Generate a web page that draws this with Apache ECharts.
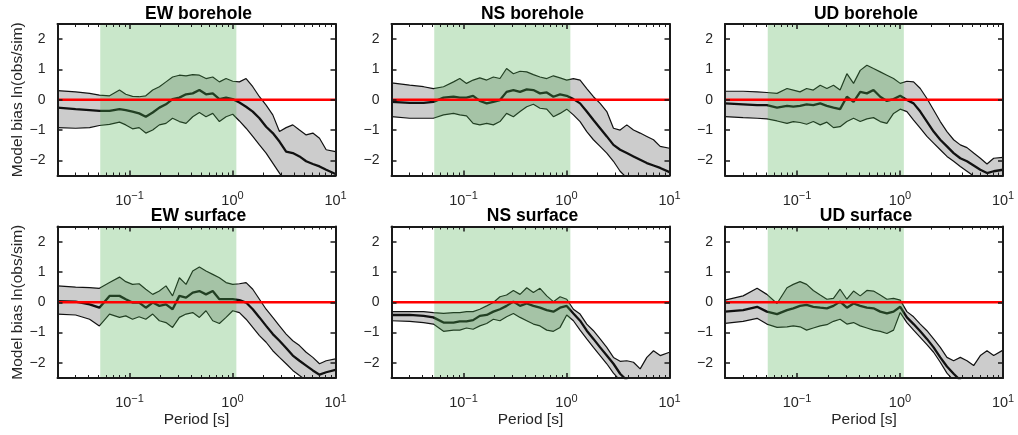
<!DOCTYPE html>
<html><head><meta charset="utf-8">
<script src="https://cdn.jsdelivr.net/npm/echarts@6/dist/echarts.min.js"></script>
<style>html,body{margin:0;padding:0;background:#fff}#c{width:1018px;height:435px}</style>
</head><body><div id="c"></div>
<script>
// ---------- data ----------
const periods = [0.02, 0.03, 0.041, 0.051, 0.064, 0.08, 0.092, 0.107, 0.124, 0.144, 0.168, 0.195, 0.226, 0.262, 0.305, 0.354, 0.411, 0.477, 0.553, 0.643, 0.746, 0.866, 1.005, 1.167, 1.355, 1.573, 1.826, 2.12, 2.461, 2.857, 3.317, 3.85, 4.47, 5.19, 6.025, 6.994, 8.12, 10];

const panelTitles = ['EW borehole', 'NS borehole', 'UD borehole', 'EW surface', 'NS surface', 'UD surface'];

const ewBoreholeUpper = [0.30, 0.26, 0.21, 0.15, 0.13, 0.32, 0.18, 0.11, 0.10, 0.13, 0.32, 0.43, 0.59, 0.75, 0.81, 0.79, 0.83, 0.81, 0.70, 0.75, 0.59, 0.70, 0.61, 0.59, 0.70, 0.43, 0.10, -0.18, -0.50, -1.05, -0.92, -0.83, -1.00, -1.16, -1.10, -1.27, -1.65, -1.71];
const ewBoreholeMean  = [-0.26, -0.31, -0.34, -0.37, -0.37, -0.31, -0.34, -0.39, -0.45, -0.56, -0.42, -0.26, -0.15, 0.02, 0.07, 0.18, 0.21, 0.32, 0.18, 0.21, 0.02, 0.07, 0.02, -0.09, -0.23, -0.39, -0.61, -0.89, -1.10, -1.38, -1.71, -1.76, -1.87, -2.03, -2.12, -2.20, -2.31, -2.45];
const ewBoreholeLower = [-0.92, -0.94, -0.92, -0.85, -0.81, -0.74, -0.83, -0.96, -0.92, -1.10, -1.00, -0.83, -0.78, -0.61, -0.72, -0.78, -0.56, -0.42, -0.56, -0.45, -0.72, -0.56, -0.48, -0.70, -0.94, -1.21, -1.49, -1.76, -2.09, -2.42, -2.75, -2.90, -3.00, -3.10, -3.20, -3.30, -3.40, -3.50];

const nsBoreholeUpper = [0.56, 0.48, 0.43, 0.37, 0.43, 0.59, 0.70, 0.54, 0.65, 0.72, 0.65, 0.75, 0.70, 1.03, 0.86, 0.94, 0.92, 0.83, 0.75, 0.70, 0.79, 0.72, 0.65, 0.70, 0.65, 0.37, 0.10, -0.12, -0.39, -0.94, -1.00, -0.83, -1.00, -1.10, -1.21, -1.32, -1.54, -1.60];
const nsBoreholeMean  = [-0.07, -0.10, -0.10, -0.07, 0.07, 0.10, 0.07, 0.07, 0.13, -0.04, -0.12, -0.07, -0.01, 0.26, 0.32, 0.26, 0.34, 0.32, 0.21, 0.24, 0.10, 0.18, 0.13, 0.02, -0.12, -0.39, -0.67, -0.94, -1.21, -1.49, -1.65, -1.76, -1.87, -1.98, -2.09, -2.17, -2.25, -2.39];
const nsBoreholeLower = [-0.56, -0.61, -0.61, -0.61, -0.50, -0.45, -0.50, -0.53, -0.78, -0.83, -0.78, -0.83, -0.72, -0.45, -0.56, -0.39, -0.23, -0.15, -0.28, -0.31, -0.56, -0.45, -0.31, -0.50, -0.72, -1.05, -1.32, -1.54, -1.76, -2.03, -2.36, -2.58, -2.70, -2.80, -2.90, -3.00, -3.10, -3.20];

const udBoreholeUpper = [0.28, 0.28, 0.26, 0.24, 0.21, 0.37, 0.32, 0.26, 0.37, 0.32, 0.48, 0.37, 0.48, 0.32, 0.86, 0.54, 0.97, 1.14, 1.03, 0.92, 0.81, 0.70, 0.54, 0.61, 0.59, 0.37, 0.04, -0.34, -0.72, -1.05, -1.32, -1.49, -1.58, -1.76, -1.93, -2.12, -1.93, -1.90];
const udBoreholeMean  = [-0.12, -0.15, -0.18, -0.18, -0.26, -0.20, -0.23, -0.20, -0.15, -0.18, -0.12, -0.20, -0.26, -0.31, 0.10, -0.07, 0.26, 0.21, 0.32, 0.10, -0.04, 0.02, 0.13, -0.01, -0.12, -0.39, -0.72, -1.05, -1.32, -1.54, -1.76, -1.93, -2.03, -2.17, -2.31, -2.42, -2.36, -2.31];
const udBoreholeLower = [-0.56, -0.59, -0.61, -0.63, -0.70, -0.78, -0.72, -0.75, -0.81, -0.72, -0.83, -0.74, -0.92, -0.89, -0.72, -0.61, -0.72, -0.63, -0.59, -0.72, -0.78, -0.45, -0.31, -0.39, -0.67, -0.94, -1.21, -1.43, -1.65, -1.87, -2.03, -2.20, -2.36, -2.52, -2.69, -2.86, -2.91, -2.97];

const ewSurfaceUpper = [0.54, 0.50, 0.48, 0.46, 0.65, 0.83, 0.68, 0.59, 0.61, 0.43, 0.26, 0.37, 0.54, 0.21, 0.81, 0.59, 1.03, 1.16, 1.03, 0.92, 0.81, 0.65, 0.59, 0.61, 0.65, 0.43, 0.10, -0.23, -0.50, -0.78, -1.05, -1.27, -1.43, -1.65, -1.82, -2.03, -1.93, -1.87];
const ewSurfaceMean  = [0.04, 0.02, -0.07, -0.18, 0.21, 0.21, 0.10, -0.01, -0.01, -0.18, -0.01, -0.12, -0.07, -0.23, 0.21, 0.15, 0.32, 0.37, 0.26, 0.37, 0.10, 0.10, 0.10, 0.07, -0.01, -0.23, -0.50, -0.78, -1.05, -1.27, -1.51, -1.76, -1.93, -2.09, -2.25, -2.39, -2.31, -2.23];
const ewSurfaceLower = [-0.39, -0.42, -0.56, -0.78, -0.39, -0.50, -0.45, -0.56, -0.48, -0.56, -0.39, -0.61, -0.67, -0.83, -0.50, -0.39, -0.34, -0.50, -0.28, -0.61, -0.70, -0.50, -0.28, -0.34, -0.56, -0.83, -1.10, -1.32, -1.60, -1.82, -2.03, -2.25, -2.42, -2.58, -2.71, -2.86, -2.75, -2.64];

const nsSurfaceUpper = [-0.31, -0.31, -0.31, -0.34, -0.37, -0.34, -0.34, -0.31, -0.31, -0.23, -0.12, -0.01, 0.18, 0.24, 0.39, 0.26, 0.48, 0.32, 0.46, 0.21, 0.02, 0.18, 0.10, -0.23, -0.39, -0.72, -0.94, -1.21, -1.49, -1.82, -1.95, -1.93, -1.98, -2.20, -1.82, -1.60, -1.76, -1.65];
const nsSurfaceMean  = [-0.42, -0.42, -0.45, -0.50, -0.67, -0.67, -0.63, -0.63, -0.59, -0.45, -0.42, -0.31, -0.23, -0.12, 0.02, -0.12, -0.04, -0.12, -0.18, -0.26, -0.31, -0.18, -0.12, -0.37, -0.61, -0.94, -1.21, -1.49, -1.76, -2.03, -2.36, -2.58, -2.70, -2.80, -2.85, -2.90, -2.95, -3.00];
const nsSurfaceLower = [-0.61, -0.63, -0.67, -0.72, -0.96, -0.92, -0.92, -0.85, -0.89, -0.78, -0.70, -0.56, -0.61, -0.48, -0.37, -0.50, -0.61, -0.72, -0.78, -0.92, -0.96, -0.83, -0.42, -0.61, -0.92, -1.21, -1.49, -1.76, -2.03, -2.34, -2.58, -2.80, -2.90, -3.00, -3.10, -3.10, -3.20, -3.20];

const udSurfaceUpper = [0.07, 0.21, 0.46, 0.26, -0.04, 0.48, 0.59, 0.68, 0.59, 0.39, 0.24, 0.10, 0.13, 0.43, 0.10, 0.37, 0.21, 0.39, 0.37, 0.24, 0.10, 0.13, 0.07, -0.31, -0.48, -0.72, -0.94, -1.21, -1.49, -1.82, -1.93, -1.82, -1.93, -2.09, -1.76, -1.60, -1.76, -1.58];
const udSurfaceMean  = [-0.31, -0.26, -0.15, -0.31, -0.39, -0.26, -0.20, -0.12, -0.09, -0.15, -0.18, -0.20, -0.12, 0.02, -0.18, -0.04, -0.12, -0.18, -0.20, -0.31, -0.37, -0.31, -0.15, -0.50, -0.72, -0.96, -1.21, -1.49, -1.82, -2.12, -2.36, -2.58, -2.70, -2.75, -2.80, -2.85, -2.90, -2.90];
const udSurfaceLower = [-0.70, -0.63, -0.53, -0.72, -0.83, -0.81, -0.78, -0.81, -0.92, -0.85, -0.78, -0.74, -0.63, -0.56, -0.72, -0.67, -0.78, -0.85, -0.92, -0.96, -1.03, -0.92, -0.34, -0.67, -0.92, -1.16, -1.40, -1.65, -1.98, -2.34, -2.58, -2.80, -2.90, -3.00, -3.00, -3.10, -3.20, -3.20];

const xRange = [0.02, 10];
const yRange = [-2.5, 2.5];
const focusBand = [0.052, 1.09];
const refLevel = 0;
const yAxisTitle = 'Model bias ln(obs/sim)';
const xAxisTitle = 'Period [s]';

// ---------- layout ----------
const panelData = [
  [ewBoreholeUpper, ewBoreholeMean, ewBoreholeLower],
  [nsBoreholeUpper, nsBoreholeMean, nsBoreholeLower],
  [udBoreholeUpper, udBoreholeMean, udBoreholeLower],
  [ewSurfaceUpper, ewSurfaceMean, ewSurfaceLower],
  [nsSurfaceUpper, nsSurfaceMean, nsSurfaceLower],
  [udSurfaceUpper, udSurfaceMean, udSurfaceLower]
];
const colLeft = [57.5, 391.5, 725];
const rowTop = [24, 226.5];
const W = 278, H = 151.5;
const FONT = '"Liberation Sans", Arial, sans-serif';
const TXT = '#262626';

const grids = [], xAxes = [], yAxes = [], series = [], titles = [];
const pairs = arr => periods.map((p, k) => [p, arr[k]]);

panelData.forEach((d, i) => {
  const col = i % 3, row = Math.floor(i / 3);
  grids.push({left: colLeft[col], top: rowTop[row], width: W, height: H, show: false});
  titles.push({text: panelTitles[i], left: colLeft[col] + W / 2 + 2, top: rowTop[row] - 19, textAlign: 'center', padding: 0,
    textStyle: {fontFamily: FONT, fontSize: 17.5, fontWeight: 'bold', color: '#000'}});
  const axLine = {show: true, onZero: false, lineStyle: {color: '#1a1a1a', width: 2}};
  const xBase = {
    type: 'log', logBase: 10, gridIndex: i, min: xRange[0], max: xRange[1], z: 10,
    axisLine: axLine,
    axisTick: {show: true, inside: true, length: 5, lineStyle: {color: '#1a1a1a', width: 1.5}},
    minorTick: {show: true, splitNumber: 9, length: 3, lineStyle: {color: '#1a1a1a', width: 1}},
    splitLine: {show: false}, minorSplitLine: {show: false}
  };
  xAxes.push(Object.assign({}, xBase, {
    position: 'bottom',
    name: row === 1 ? xAxisTitle : '', nameLocation: 'middle', nameGap: 28,
    nameTextStyle: {fontFamily: FONT, fontSize: 15.5, color: TXT},
    axisLabel: {
      show: true, margin: 15, fontFamily: FONT, color: TXT,
      formatter: v => {
        const e = Math.log10(v), r = Math.round(e);
        if (Math.abs(e - r) > 1e-6) return '';
        return '{b|10}{s|' + (r < 0 ? '\u2212' + (-r) : r) + '}';
      },
      rich: {
        b: {fontFamily: FONT, fontSize: 14.5, color: TXT, lineHeight: 20},
        s: {fontFamily: FONT, fontSize: 11, color: TXT, lineHeight: 10, verticalAlign: 'top'}
      }
    }
  }));
  xAxes.push(Object.assign({}, xBase, {position: 'top', axisLabel: {show: false}}));
  const yBase = {
    type: 'value', gridIndex: i, min: yRange[0], max: yRange[1], splitNumber: 5, z: 10,
    axisLine: axLine,
    axisTick: {show: true, inside: true, length: 5, lineStyle: {color: '#1a1a1a', width: 1.5}},
    splitLine: {show: false}
  };
  yAxes.push(Object.assign({}, yBase, {
    position: 'left',
    name: col === 0 ? yAxisTitle : '', nameLocation: 'middle', nameGap: 26, nameRotate: 90,
    nameTextStyle: {fontFamily: FONT, fontSize: 15.5, color: TXT},
    axisLabel: {
      show: true, margin: 12, fontFamily: FONT, fontSize: 14, color: TXT,
      formatter: v => Math.abs(v - Math.round(v)) < 1e-9 ? String(Math.round(v)).replace('-', '\u2212') : ''
    }
  }));
  yAxes.push(Object.assign({}, yBase, {position: 'right', axisLabel: {show: false}}));

  const xi = 2 * i, yi = 2 * i;
  const [up, mean, lo] = d;
  // spread band
  series.push({
    type: 'custom', xAxisIndex: xi, yAxisIndex: yi, z: 1, clip: true, silent: true,
    data: [[periods[0], mean[0]]],
    renderItem: (params, api) => {
      const pts = [];
      for (let k = 0; k < periods.length; k++) pts.push(api.coord([periods[k], up[k]]));
      for (let k = periods.length - 1; k >= 0; k--) pts.push(api.coord([periods[k], lo[k]]));
      return {type: 'polygon', shape: {points: pts}, style: {fill: 'rgba(0,0,0,0.2)', stroke: null}};
    }
  });
  [[up, 1.2], [lo, 1.2], [mean, 2.3]].forEach(([arr, w]) => {
    series.push({
      type: 'line', xAxisIndex: xi, yAxisIndex: yi, z: 2, data: pairs(arr),
      symbol: 'none', showSymbol: false, silent: true, clip: true,
      lineStyle: {color: '#111', width: w}
    });
  });
  // focus band overlay
  series.push({
    type: 'custom', xAxisIndex: xi, yAxisIndex: yi, z: 3, clip: true, silent: true,
    data: [[focusBand[0], yRange[1]]],
    renderItem: (params, api) => {
      const a = api.coord([focusBand[0], yRange[1]]);
      const b = api.coord([focusBand[1], yRange[0]]);
      return {type: 'rect', shape: {x: a[0], y: a[1], width: b[0] - a[0], height: b[1] - a[1]},
        style: {fill: 'rgba(76,175,80,0.3)'}};
    }
  });
  // zero reference
  series.push({
    type: 'line', xAxisIndex: xi, yAxisIndex: yi, z: 4, silent: true,
    data: [[xRange[0], refLevel], [xRange[1], refLevel]],
    symbol: 'none', lineStyle: {color: '#ff0000', width: 2.6}
  });
});

const chart = echarts.init(document.getElementById('c'), null, {renderer: 'canvas'});
chart.setOption({
  animation: false,
  backgroundColor: '#fff',
  title: titles,
  grid: grids,
  xAxis: xAxes,
  yAxis: yAxes,
  series: series
});
</script>
</body></html>
